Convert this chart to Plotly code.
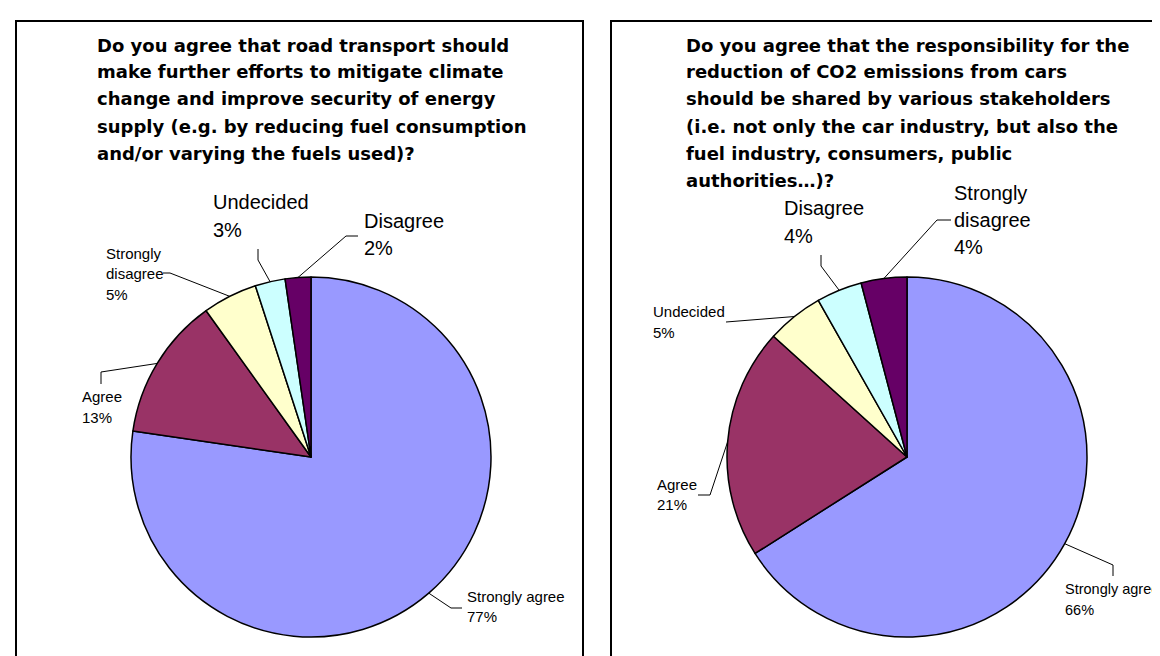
import math
import plotly.graph_objects as go

W, H = 1160, 656

# ---------------- data ----------------
left_title = [
    "Do you agree that road transport should",
    "make further efforts to mitigate climate",
    "change and improve security of energy",
    "supply (e.g. by reducing fuel consumption",
    "and/or varying the fuels used)?",
]
left_labels = ["Strongly agree", "Agree", "Strongly disagree", "Undecided", "Disagree"]
left_label_rows = [["Strongly agree"], ["Agree"], ["Strongly", "disagree"], ["Undecided"], ["Disagree"]]
left_values = [77.3, 12.8, 4.9, 2.7, 2.3]

right_title = [
    "Do you agree that the responsibility for the",
    "reduction of CO2 emissions from cars",
    "should be shared by various stakeholders",
    "(i.e. not only the car industry, but also the",
    "fuel industry, consumers, public",
    "authorities\u2026)?",
]
right_labels = ["Strongly agree", "Agree", "Undecided", "Disagree", "Strongly disagree"]
right_label_rows = [["Strongly agree"], ["Agree"], ["Undecided"], ["Disagree"], ["Strongly", "disagree"]]
right_values = [66.0, 20.7, 5.1, 4.1, 4.1]

slice_colors = ["#9999FF", "#993366", "#FFFFCC", "#CCFFFF", "#660066"]

# ---------------- layout helpers ----------------
def X(x):
    return x / W

def Y(y):
    return 1 - y / H

FONT = "Arial, Liberation Sans, sans-serif"
TITLE_FONT = "DejaVu Sans, Arial, sans-serif"

fig = go.Figure()
shapes = []
annotations = []

panels = [
    dict(title=left_title, title_x=87, labels=left_labels, rows=left_label_rows,
         values=left_values, cx=303, cy=449, r=180,
         # per slice: font size, label left x, row centres, leader elbow, leader end
         label_style=[
             (15, 458, [588, 608], (443, 600), (454, 600)),
             (15, 73, [388, 409], (93, 364), (93, 376)),
             (15, 97, [245, 265, 286], (162, 265), (155, 265)),
             (20, 204, [194, 222], (250, 252), (250, 241)),
             (20, 355, [213, 240], (338, 228), (350, 228)),
         ]),
    dict(title=right_title, title_x=676, labels=right_labels, rows=right_label_rows,
         values=right_values, cx=899, cy=449, r=180,
         label_style=[
             (14.5, 1056, [581, 602], (1105, 557), (1105, 568)),
             (15, 648, [476, 497], (702, 487), (690, 487)),
             (15, 644, [303, 324], (718, 314), (718, 314)),
             (20, 775, [200, 228], (813, 258), (813, 247)),
             (20, 945, [185, 212, 239], (929, 212), (943, 212)),
         ]),
]

for p in panels:
    cx, cy, r = p["cx"], p["cy"], p["r"]
    fig.add_trace(go.Pie(
        labels=p["labels"], values=p["values"], sort=False, direction="clockwise",
        rotation=0, textinfo="none", hoverinfo="label+percent",
        marker=dict(colors=slice_colors, line=dict(color="black", width=1.5)),
        domain=dict(x=[X(cx - r), X(cx + r)], y=[Y(cy + r), Y(cy - r)]),
        showlegend=False,
    ))
    # title lines
    for k, line in enumerate(p["title"]):
        annotations.append(dict(
            text=line, x=X(p["title_x"]), y=Y(37 + 27 * k), xref="paper", yref="paper",
            xanchor="left", yanchor="middle", showarrow=False,
            font=dict(family=TITLE_FONT, size=18, color="black", weight="bold"),
        ))
    total = sum(p["values"])
    cum = 0.0
    for i, v in enumerate(p["values"]):
        size, lx, rows_y, elbow, end = p["label_style"][i]
        theta = 2 * math.pi * (cum + v / 2) / total
        cum += v
        ex = cx + r * math.sin(theta)
        ey = cy - r * math.cos(theta)
        shapes.append(dict(
            type="path", xref="paper", yref="paper",
            path=f"M {X(ex)},{Y(ey)} L {X(elbow[0])},{Y(elbow[1])} L {X(end[0])},{Y(end[1])}",
            line=dict(color="black", width=1),
        ))
        texts = p["rows"][i] + [f"{round(v / total * 100)}%"]
        for t, ry in zip(texts, rows_y):
            annotations.append(dict(
                text=t, x=X(lx), y=Y(ry), xref="paper", yref="paper",
                xanchor="left", yanchor="middle", showarrow=False, borderpad=0,
                font=dict(family=FONT, size=size, color="black"),
            ))

# panel frames
shapes.append(dict(type="rect", xref="paper", yref="paper",
                   x0=X(8), x1=X(575), y0=Y(13), y1=Y(700),
                   line=dict(color="black", width=2)))
shapes.append(dict(type="rect", xref="paper", yref="paper",
                   x0=X(603), x1=X(1200), y0=Y(13), y1=Y(700),
                   line=dict(color="black", width=2)))

fig.update_layout(
    width=W, height=H, margin=dict(l=0, r=0, t=0, b=0),
    paper_bgcolor="white", plot_bgcolor="white",
    shapes=shapes, annotations=annotations,
)

fig.write_html("out.html")
